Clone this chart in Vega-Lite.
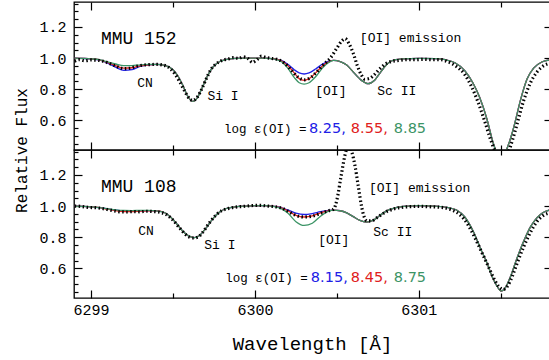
{
  "$schema": "https://vega.github.io/schema/vega-lite/v6.json",
  "padding": {"left": 12, "top": 0, "right": 0, "bottom": 0},
  "background": "white",
  "spacing": 0,
  "bounds": "flush",
  "config": {
    "view": {"stroke": "#000", "strokeWidth": 1.3},
    "axis": {"domain": false, "grid": false, "tickColor": "#000", "tickWidth": 1.2, "labelFont": "Liberation Mono", "labelFontSize": 15, "labelColor": "#000", "titleFont": "Liberation Mono", "titleColor": "#000", "titleFontWeight": "normal"},
    "text": {"font": "Liberation Mono", "color": "#000"}
  },
  "datasets": {
    "top": [
      {"series":"low","x":6298.90,"flux":1.000},{"series":"low","x":6298.95,"flux":0.998},{"series":"low","x":6299.00,"flux":0.995},{"series":"low","x":6299.05,"flux":0.988},{"series":"low","x":6299.10,"flux":0.968},{"series":"low","x":6299.15,"flux":0.942},{"series":"low","x":6299.20,"flux":0.921},{"series":"low","x":6299.25,"flux":0.926},{"series":"low","x":6299.30,"flux":0.946},{"series":"low","x":6299.35,"flux":0.956},{"series":"low","x":6299.40,"flux":0.959},{"series":"low","x":6299.45,"flux":0.953},{"series":"low","x":6299.50,"flux":0.925},{"series":"low","x":6299.53,"flux":0.885},{"series":"low","x":6299.56,"flux":0.825},{"series":"low","x":6299.59,"flux":0.755},{"series":"low","x":6299.62,"flux":0.722},{"series":"low","x":6299.65,"flux":0.748},{"series":"low","x":6299.68,"flux":0.815},{"series":"low","x":6299.71,"flux":0.885},{"series":"low","x":6299.74,"flux":0.938},{"series":"low","x":6299.78,"flux":0.975},{"series":"low","x":6299.82,"flux":0.99},{"series":"low","x":6299.88,"flux":0.998},{"series":"low","x":6299.95,"flux":1.0},{"series":"low","x":6300.05,"flux":1.0},{"series":"low","x":6300.12,"flux":0.995},{"series":"low","x":6300.16,"flux":0.985},{"series":"low","x":6300.20,"flux":0.96},{"series":"low","x":6300.24,"flux":0.925},{"series":"low","x":6300.27,"flux":0.905},{"series":"low","x":6300.30,"flux":0.898},{"series":"low","x":6300.33,"flux":0.905},{"series":"low","x":6300.37,"flux":0.93},{"series":"low","x":6300.41,"flux":0.96},{"series":"low","x":6300.45,"flux":0.98},{"series":"low","x":6300.48,"flux":0.985},{"series":"low","x":6300.52,"flux":0.978},{"series":"low","x":6300.56,"flux":0.955},{"series":"low","x":6300.60,"flux":0.91},{"series":"low","x":6300.65,"flux":0.857},{"series":"low","x":6300.69,"flux":0.836},{"series":"low","x":6300.73,"flux":0.858},{"series":"low","x":6300.77,"flux":0.915},{"series":"low","x":6300.81,"flux":0.965},{"series":"low","x":6300.85,"flux":0.988},{"series":"low","x":6300.90,"flux":0.995},{"series":"low","x":6301.00,"flux":0.998},{"series":"low","x":6301.10,"flux":0.997},{"series":"low","x":6301.16,"flux":0.99},{"series":"low","x":6301.22,"flux":0.97},{"series":"low","x":6301.28,"flux":0.92},{"series":"low","x":6301.33,"flux":0.84},{"series":"low","x":6301.37,"flux":0.75},{"series":"low","x":6301.415,"flux":0.61},{"series":"low","x":6301.455,"flux":0.45},{"series":"low","x":6301.50,"flux":0.35},{"series":"low","x":6301.545,"flux":0.44},{"series":"low","x":6301.58,"flux":0.56},{"series":"low","x":6301.62,"flux":0.73},{"series":"low","x":6301.66,"flux":0.865},{"series":"low","x":6301.70,"flux":0.935},{"series":"low","x":6301.75,"flux":0.975},{"series":"low","x":6301.81,"flux":0.99},

      {"series":"mid","x":6298.90,"flux":1.000},{"series":"mid","x":6298.95,"flux":0.998},{"series":"mid","x":6299.00,"flux":0.995},{"series":"mid","x":6299.05,"flux":0.989},{"series":"mid","x":6299.10,"flux":0.972},{"series":"mid","x":6299.15,"flux":0.952},{"series":"mid","x":6299.20,"flux":0.935},{"series":"mid","x":6299.25,"flux":0.938},{"series":"mid","x":6299.30,"flux":0.95},{"series":"mid","x":6299.35,"flux":0.957},{"series":"mid","x":6299.40,"flux":0.959},{"series":"mid","x":6299.45,"flux":0.953},{"series":"mid","x":6299.50,"flux":0.925},{"series":"mid","x":6299.53,"flux":0.885},{"series":"mid","x":6299.56,"flux":0.825},{"series":"mid","x":6299.59,"flux":0.755},{"series":"mid","x":6299.62,"flux":0.722},{"series":"mid","x":6299.65,"flux":0.748},{"series":"mid","x":6299.68,"flux":0.815},{"series":"mid","x":6299.71,"flux":0.885},{"series":"mid","x":6299.74,"flux":0.938},{"series":"mid","x":6299.78,"flux":0.975},{"series":"mid","x":6299.82,"flux":0.99},{"series":"mid","x":6299.88,"flux":0.998},{"series":"mid","x":6299.95,"flux":1.0},{"series":"mid","x":6300.05,"flux":1.0},{"series":"mid","x":6300.12,"flux":0.995},{"series":"mid","x":6300.16,"flux":0.983},{"series":"mid","x":6300.20,"flux":0.952},{"series":"mid","x":6300.24,"flux":0.905},{"series":"mid","x":6300.27,"flux":0.868},{"series":"mid","x":6300.30,"flux":0.857},{"series":"mid","x":6300.33,"flux":0.868},{"series":"mid","x":6300.37,"flux":0.905},{"series":"mid","x":6300.41,"flux":0.948},{"series":"mid","x":6300.45,"flux":0.976},{"series":"mid","x":6300.48,"flux":0.985},{"series":"mid","x":6300.52,"flux":0.978},{"series":"mid","x":6300.56,"flux":0.955},{"series":"mid","x":6300.60,"flux":0.91},{"series":"mid","x":6300.65,"flux":0.857},{"series":"mid","x":6300.69,"flux":0.836},{"series":"mid","x":6300.73,"flux":0.858},{"series":"mid","x":6300.77,"flux":0.915},{"series":"mid","x":6300.81,"flux":0.965},{"series":"mid","x":6300.85,"flux":0.988},{"series":"mid","x":6300.90,"flux":0.995},{"series":"mid","x":6301.00,"flux":0.998},{"series":"mid","x":6301.10,"flux":0.997},{"series":"mid","x":6301.16,"flux":0.99},{"series":"mid","x":6301.22,"flux":0.97},{"series":"mid","x":6301.28,"flux":0.92},{"series":"mid","x":6301.33,"flux":0.84},{"series":"mid","x":6301.37,"flux":0.75},{"series":"mid","x":6301.415,"flux":0.61},{"series":"mid","x":6301.455,"flux":0.45},{"series":"mid","x":6301.50,"flux":0.35},{"series":"mid","x":6301.545,"flux":0.44},{"series":"mid","x":6301.58,"flux":0.56},{"series":"mid","x":6301.62,"flux":0.73},{"series":"mid","x":6301.66,"flux":0.865},{"series":"mid","x":6301.70,"flux":0.935},{"series":"mid","x":6301.75,"flux":0.975},{"series":"mid","x":6301.81,"flux":0.99},

      {"series":"high","x":6298.90,"flux":1.000},{"series":"high","x":6298.95,"flux":0.998},{"series":"high","x":6299.00,"flux":0.995},{"series":"high","x":6299.05,"flux":0.99},{"series":"high","x":6299.10,"flux":0.976},{"series":"high","x":6299.15,"flux":0.962},{"series":"high","x":6299.20,"flux":0.951},{"series":"high","x":6299.25,"flux":0.952},{"series":"high","x":6299.30,"flux":0.957},{"series":"high","x":6299.35,"flux":0.959},{"series":"high","x":6299.40,"flux":0.959},{"series":"high","x":6299.45,"flux":0.953},{"series":"high","x":6299.50,"flux":0.925},{"series":"high","x":6299.53,"flux":0.885},{"series":"high","x":6299.56,"flux":0.825},{"series":"high","x":6299.59,"flux":0.755},{"series":"high","x":6299.62,"flux":0.722},{"series":"high","x":6299.65,"flux":0.748},{"series":"high","x":6299.68,"flux":0.815},{"series":"high","x":6299.71,"flux":0.885},{"series":"high","x":6299.74,"flux":0.938},{"series":"high","x":6299.78,"flux":0.975},{"series":"high","x":6299.82,"flux":0.99},{"series":"high","x":6299.88,"flux":0.998},{"series":"high","x":6299.95,"flux":1.0},{"series":"high","x":6300.05,"flux":1.0},{"series":"high","x":6300.12,"flux":0.994},{"series":"high","x":6300.16,"flux":0.978},{"series":"high","x":6300.20,"flux":0.935},{"series":"high","x":6300.24,"flux":0.875},{"series":"high","x":6300.27,"flux":0.842},{"series":"high","x":6300.30,"flux":0.833},{"series":"high","x":6300.33,"flux":0.842},{"series":"high","x":6300.37,"flux":0.88},{"series":"high","x":6300.41,"flux":0.935},{"series":"high","x":6300.45,"flux":0.972},{"series":"high","x":6300.48,"flux":0.985},{"series":"high","x":6300.52,"flux":0.978},{"series":"high","x":6300.56,"flux":0.955},{"series":"high","x":6300.60,"flux":0.91},{"series":"high","x":6300.65,"flux":0.857},{"series":"high","x":6300.69,"flux":0.836},{"series":"high","x":6300.73,"flux":0.858},{"series":"high","x":6300.77,"flux":0.915},{"series":"high","x":6300.81,"flux":0.965},{"series":"high","x":6300.85,"flux":0.988},{"series":"high","x":6300.90,"flux":0.995},{"series":"high","x":6301.00,"flux":0.998},{"series":"high","x":6301.10,"flux":0.997},{"series":"high","x":6301.16,"flux":0.99},{"series":"high","x":6301.22,"flux":0.97},{"series":"high","x":6301.28,"flux":0.92},{"series":"high","x":6301.33,"flux":0.84},{"series":"high","x":6301.37,"flux":0.75},{"series":"high","x":6301.415,"flux":0.61},{"series":"high","x":6301.455,"flux":0.45},{"series":"high","x":6301.50,"flux":0.35},{"series":"high","x":6301.545,"flux":0.44},{"series":"high","x":6301.58,"flux":0.56},{"series":"high","x":6301.62,"flux":0.73},{"series":"high","x":6301.66,"flux":0.865},{"series":"high","x":6301.70,"flux":0.935},{"series":"high","x":6301.75,"flux":0.975},{"series":"high","x":6301.81,"flux":0.99},

      {"series":"obs","x":6298.90,"flux":0.98},{"series":"obs","x":6298.93,"flux":0.99},{"series":"obs","x":6298.96,"flux":0.983},{"series":"obs","x":6299.00,"flux":0.988},{"series":"obs","x":6299.04,"flux":0.986},{"series":"obs","x":6299.08,"flux":0.978},{"series":"obs","x":6299.12,"flux":0.962},{"series":"obs","x":6299.16,"flux":0.945},{"series":"obs","x":6299.20,"flux":0.932},{"series":"obs","x":6299.24,"flux":0.935},{"series":"obs","x":6299.28,"flux":0.948},{"series":"obs","x":6299.32,"flux":0.955},{"series":"obs","x":6299.36,"flux":0.958},{"series":"obs","x":6299.40,"flux":0.96},{"series":"obs","x":6299.44,"flux":0.955},{"series":"obs","x":6299.48,"flux":0.935},{"series":"obs","x":6299.51,"flux":0.9},{"series":"obs","x":6299.54,"flux":0.85},{"series":"obs","x":6299.57,"flux":0.79},{"series":"obs","x":6299.60,"flux":0.74},{"series":"obs","x":6299.62,"flux":0.728},{"series":"obs","x":6299.645,"flux":0.745},{"series":"obs","x":6299.67,"flux":0.79},{"series":"obs","x":6299.70,"flux":0.86},{"series":"obs","x":6299.73,"flux":0.925},{"series":"obs","x":6299.76,"flux":0.96},{"series":"obs","x":6299.80,"flux":0.985},{"series":"obs","x":6299.84,"flux":0.995},{"series":"obs","x":6299.87,"flux":1.003},{"series":"obs","x":6299.90,"flux":0.998},{"series":"obs","x":6299.93,"flux":1.008},{"series":"obs","x":6299.96,"flux":0.995},{"series":"obs","x":6299.985,"flux":0.972},{"series":"obs","x":6300.01,"flux":0.988},{"series":"obs","x":6300.04,"flux":1.012},{"series":"obs","x":6300.07,"flux":1.003},{"series":"obs","x":6300.10,"flux":0.998},{"series":"obs","x":6300.14,"flux":0.99},{"series":"obs","x":6300.18,"flux":0.968},{"series":"obs","x":6300.22,"flux":0.925},{"series":"obs","x":6300.26,"flux":0.88},{"series":"obs","x":6300.30,"flux":0.86},{"series":"obs","x":6300.34,"flux":0.875},{"series":"obs","x":6300.38,"flux":0.915},{"series":"obs","x":6300.42,"flux":0.96},{"series":"obs","x":6300.46,"flux":1.0},{"series":"obs","x":6300.50,"flux":1.065},{"series":"obs","x":6300.53,"flux":1.11},{"series":"obs","x":6300.55,"flux":1.125},{"series":"obs","x":6300.575,"flux":1.09},{"series":"obs","x":6300.60,"flux":1.03},{"series":"obs","x":6300.625,"flux":0.95},{"series":"obs","x":6300.65,"flux":0.89},{"series":"obs","x":6300.67,"flux":0.865},{"series":"obs","x":6300.70,"flux":0.87},{"series":"obs","x":6300.73,"flux":0.895},{"series":"obs","x":6300.76,"flux":0.93},{"series":"obs","x":6300.80,"flux":0.965},{"series":"obs","x":6300.84,"flux":0.98},{"series":"obs","x":6300.88,"flux":0.985},{"series":"obs","x":6300.93,"flux":0.99},{"series":"obs","x":6300.98,"flux":0.99},{"series":"obs","x":6301.03,"flux":0.992},{"series":"obs","x":6301.08,"flux":0.99},{"series":"obs","x":6301.13,"flux":0.99},{"series":"obs","x":6301.18,"flux":0.975},{"series":"obs","x":6301.23,"flux":0.945},{"series":"obs","x":6301.28,"flux":0.895},{"series":"obs","x":6301.32,"flux":0.82},{"series":"obs","x":6301.36,"flux":0.72},{"series":"obs","x":6301.40,"flux":0.6},{"series":"obs","x":6301.44,"flux":0.47},{"series":"obs","x":6301.47,"flux":0.39},{"series":"obs","x":6301.50,"flux":0.34},{"series":"obs","x":6301.54,"flux":0.38},{"series":"obs","x":6301.57,"flux":0.47},{"series":"obs","x":6301.60,"flux":0.58},{"series":"obs","x":6301.64,"flux":0.73},{"series":"obs","x":6301.68,"flux":0.84},{"series":"obs","x":6301.72,"flux":0.91},{"series":"obs","x":6301.76,"flux":0.95},{"series":"obs","x":6301.81,"flux":0.97}
    ],
    "bottom": [
      {"series":"low","x":6298.90,"flux":1.0},{"series":"low","x":6298.95,"flux":0.998},{"series":"low","x":6299.00,"flux":0.995},{"series":"low","x":6299.05,"flux":0.99},{"series":"low","x":6299.10,"flux":0.982},{"series":"low","x":6299.15,"flux":0.974},{"series":"low","x":6299.20,"flux":0.969},{"series":"low","x":6299.25,"flux":0.968},{"series":"low","x":6299.30,"flux":0.97},{"series":"low","x":6299.35,"flux":0.971},{"series":"low","x":6299.40,"flux":0.969},{"series":"low","x":6299.44,"flux":0.962},{"series":"low","x":6299.48,"flux":0.935},{"series":"low","x":6299.52,"flux":0.89},{"series":"low","x":6299.56,"flux":0.838},{"series":"low","x":6299.60,"flux":0.805},{"series":"low","x":6299.63,"flux":0.798},{"series":"low","x":6299.66,"flux":0.81},{"series":"low","x":6299.70,"flux":0.857},{"series":"low","x":6299.74,"flux":0.915},{"series":"low","x":6299.78,"flux":0.958},{"series":"low","x":6299.82,"flux":0.983},{"series":"low","x":6299.88,"flux":0.995},{"series":"low","x":6299.95,"flux":1.0},{"series":"low","x":6300.05,"flux":1.003},{"series":"low","x":6300.12,"flux":0.998},{"series":"low","x":6300.16,"flux":0.99},{"series":"low","x":6300.20,"flux":0.975},{"series":"low","x":6300.25,"flux":0.955},{"series":"low","x":6300.30,"flux":0.946},{"series":"low","x":6300.35,"flux":0.952},{"series":"low","x":6300.40,"flux":0.964},{"series":"low","x":6300.45,"flux":0.972},{"series":"low","x":6300.48,"flux":0.974},{"series":"low","x":6300.52,"flux":0.97},{"series":"low","x":6300.56,"flux":0.956},{"series":"low","x":6300.60,"flux":0.932},{"series":"low","x":6300.64,"flux":0.908},{"series":"low","x":6300.68,"flux":0.897},{"series":"low","x":6300.72,"flux":0.908},{"series":"low","x":6300.76,"flux":0.938},{"series":"low","x":6300.80,"flux":0.968},{"series":"low","x":6300.86,"flux":0.99},{"series":"low","x":6300.93,"flux":1.0},{"series":"low","x":6301.00,"flux":1.003},{"series":"low","x":6301.10,"flux":1.0},{"series":"low","x":6301.18,"flux":0.99},{"series":"low","x":6301.23,"flux":0.975},{"series":"low","x":6301.28,"flux":0.93},{"series":"low","x":6301.335,"flux":0.83},{"series":"low","x":6301.375,"flux":0.73},{"series":"low","x":6301.415,"flux":0.636},{"series":"low","x":6301.45,"flux":0.54},{"series":"low","x":6301.475,"flux":0.49},{"series":"low","x":6301.50,"flux":0.455},{"series":"low","x":6301.53,"flux":0.48},{"series":"low","x":6301.56,"flux":0.55},{"series":"low","x":6301.59,"flux":0.64},{"series":"low","x":6301.62,"flux":0.725},{"series":"low","x":6301.65,"flux":0.8},{"series":"low","x":6301.68,"flux":0.865},{"series":"low","x":6301.71,"flux":0.912},{"series":"low","x":6301.74,"flux":0.945},{"series":"low","x":6301.77,"flux":0.965},{"series":"low","x":6301.81,"flux":0.977},

      {"series":"mid","x":6298.90,"flux":1.0},{"series":"mid","x":6298.95,"flux":0.998},{"series":"mid","x":6299.00,"flux":0.995},{"series":"mid","x":6299.05,"flux":0.99},{"series":"mid","x":6299.10,"flux":0.98},{"series":"mid","x":6299.15,"flux":0.971},{"series":"mid","x":6299.20,"flux":0.965},{"series":"mid","x":6299.25,"flux":0.964},{"series":"mid","x":6299.30,"flux":0.967},{"series":"mid","x":6299.35,"flux":0.97},{"series":"mid","x":6299.40,"flux":0.969},{"series":"mid","x":6299.44,"flux":0.962},{"series":"mid","x":6299.48,"flux":0.935},{"series":"mid","x":6299.52,"flux":0.89},{"series":"mid","x":6299.56,"flux":0.838},{"series":"mid","x":6299.60,"flux":0.805},{"series":"mid","x":6299.63,"flux":0.798},{"series":"mid","x":6299.66,"flux":0.81},{"series":"mid","x":6299.70,"flux":0.857},{"series":"mid","x":6299.74,"flux":0.915},{"series":"mid","x":6299.78,"flux":0.958},{"series":"mid","x":6299.82,"flux":0.983},{"series":"mid","x":6299.88,"flux":0.995},{"series":"mid","x":6299.95,"flux":1.0},{"series":"mid","x":6300.05,"flux":1.003},{"series":"mid","x":6300.12,"flux":0.998},{"series":"mid","x":6300.16,"flux":0.989},{"series":"mid","x":6300.20,"flux":0.97},{"series":"mid","x":6300.25,"flux":0.94},{"series":"mid","x":6300.30,"flux":0.93},{"series":"mid","x":6300.35,"flux":0.937},{"series":"mid","x":6300.40,"flux":0.956},{"series":"mid","x":6300.45,"flux":0.971},{"series":"mid","x":6300.48,"flux":0.974},{"series":"mid","x":6300.52,"flux":0.97},{"series":"mid","x":6300.56,"flux":0.956},{"series":"mid","x":6300.60,"flux":0.932},{"series":"mid","x":6300.64,"flux":0.908},{"series":"mid","x":6300.68,"flux":0.897},{"series":"mid","x":6300.72,"flux":0.908},{"series":"mid","x":6300.76,"flux":0.938},{"series":"mid","x":6300.80,"flux":0.968},{"series":"mid","x":6300.86,"flux":0.99},{"series":"mid","x":6300.93,"flux":1.0},{"series":"mid","x":6301.00,"flux":1.003},{"series":"mid","x":6301.10,"flux":1.0},{"series":"mid","x":6301.18,"flux":0.99},{"series":"mid","x":6301.23,"flux":0.975},{"series":"mid","x":6301.28,"flux":0.93},{"series":"mid","x":6301.335,"flux":0.83},{"series":"mid","x":6301.375,"flux":0.73},{"series":"mid","x":6301.415,"flux":0.636},{"series":"mid","x":6301.45,"flux":0.54},{"series":"mid","x":6301.475,"flux":0.49},{"series":"mid","x":6301.50,"flux":0.455},{"series":"mid","x":6301.53,"flux":0.48},{"series":"mid","x":6301.56,"flux":0.55},{"series":"mid","x":6301.59,"flux":0.64},{"series":"mid","x":6301.62,"flux":0.725},{"series":"mid","x":6301.65,"flux":0.8},{"series":"mid","x":6301.68,"flux":0.865},{"series":"mid","x":6301.71,"flux":0.912},{"series":"mid","x":6301.74,"flux":0.945},{"series":"mid","x":6301.77,"flux":0.965},{"series":"mid","x":6301.81,"flux":0.977},

      {"series":"high","x":6298.90,"flux":1.0},{"series":"high","x":6298.95,"flux":0.998},{"series":"high","x":6299.00,"flux":0.995},{"series":"high","x":6299.05,"flux":0.99},{"series":"high","x":6299.10,"flux":0.983},{"series":"high","x":6299.15,"flux":0.976},{"series":"high","x":6299.20,"flux":0.972},{"series":"high","x":6299.25,"flux":0.971},{"series":"high","x":6299.30,"flux":0.972},{"series":"high","x":6299.35,"flux":0.972},{"series":"high","x":6299.40,"flux":0.969},{"series":"high","x":6299.44,"flux":0.962},{"series":"high","x":6299.48,"flux":0.935},{"series":"high","x":6299.52,"flux":0.89},{"series":"high","x":6299.56,"flux":0.838},{"series":"high","x":6299.60,"flux":0.805},{"series":"high","x":6299.63,"flux":0.798},{"series":"high","x":6299.66,"flux":0.81},{"series":"high","x":6299.70,"flux":0.857},{"series":"high","x":6299.74,"flux":0.915},{"series":"high","x":6299.78,"flux":0.958},{"series":"high","x":6299.82,"flux":0.983},{"series":"high","x":6299.88,"flux":0.995},{"series":"high","x":6299.95,"flux":1.0},{"series":"high","x":6300.05,"flux":1.003},{"series":"high","x":6300.12,"flux":0.996},{"series":"high","x":6300.16,"flux":0.984},{"series":"high","x":6300.20,"flux":0.955},{"series":"high","x":6300.25,"flux":0.9},{"series":"high","x":6300.30,"flux":0.876},{"series":"high","x":6300.35,"flux":0.89},{"series":"high","x":6300.40,"flux":0.935},{"series":"high","x":6300.45,"flux":0.967},{"series":"high","x":6300.48,"flux":0.974},{"series":"high","x":6300.52,"flux":0.97},{"series":"high","x":6300.56,"flux":0.956},{"series":"high","x":6300.60,"flux":0.932},{"series":"high","x":6300.64,"flux":0.908},{"series":"high","x":6300.68,"flux":0.897},{"series":"high","x":6300.72,"flux":0.908},{"series":"high","x":6300.76,"flux":0.938},{"series":"high","x":6300.80,"flux":0.968},{"series":"high","x":6300.86,"flux":0.99},{"series":"high","x":6300.93,"flux":1.0},{"series":"high","x":6301.00,"flux":1.003},{"series":"high","x":6301.10,"flux":1.0},{"series":"high","x":6301.18,"flux":0.99},{"series":"high","x":6301.23,"flux":0.975},{"series":"high","x":6301.28,"flux":0.93},{"series":"high","x":6301.335,"flux":0.83},{"series":"high","x":6301.375,"flux":0.73},{"series":"high","x":6301.415,"flux":0.636},{"series":"high","x":6301.45,"flux":0.54},{"series":"high","x":6301.475,"flux":0.49},{"series":"high","x":6301.50,"flux":0.455},{"series":"high","x":6301.53,"flux":0.48},{"series":"high","x":6301.56,"flux":0.55},{"series":"high","x":6301.59,"flux":0.64},{"series":"high","x":6301.62,"flux":0.725},{"series":"high","x":6301.65,"flux":0.8},{"series":"high","x":6301.68,"flux":0.865},{"series":"high","x":6301.71,"flux":0.912},{"series":"high","x":6301.74,"flux":0.945},{"series":"high","x":6301.77,"flux":0.965},{"series":"high","x":6301.81,"flux":0.977},

      {"series":"obs","x":6298.90,"flux":1.0},{"series":"obs","x":6298.94,"flux":0.998},{"series":"obs","x":6298.98,"flux":0.992},{"series":"obs","x":6299.02,"flux":0.99},{"series":"obs","x":6299.06,"flux":0.986},{"series":"obs","x":6299.10,"flux":0.978},{"series":"obs","x":6299.14,"flux":0.97},{"series":"obs","x":6299.18,"flux":0.963},{"series":"obs","x":6299.22,"flux":0.962},{"series":"obs","x":6299.26,"flux":0.965},{"series":"obs","x":6299.30,"flux":0.963},{"series":"obs","x":6299.34,"flux":0.967},{"series":"obs","x":6299.38,"flux":0.965},{"series":"obs","x":6299.42,"flux":0.96},{"series":"obs","x":6299.46,"flux":0.945},{"series":"obs","x":6299.50,"flux":0.91},{"series":"obs","x":6299.54,"flux":0.86},{"series":"obs","x":6299.58,"flux":0.815},{"series":"obs","x":6299.62,"flux":0.795},{"series":"obs","x":6299.65,"flux":0.8},{"series":"obs","x":6299.68,"flux":0.83},{"series":"obs","x":6299.72,"flux":0.89},{"series":"obs","x":6299.76,"flux":0.94},{"series":"obs","x":6299.80,"flux":0.972},{"series":"obs","x":6299.84,"flux":0.985},{"series":"obs","x":6299.88,"flux":0.993},{"series":"obs","x":6299.93,"flux":0.998},{"series":"obs","x":6299.98,"flux":1.003},{"series":"obs","x":6300.03,"flux":1.005},{"series":"obs","x":6300.08,"flux":1.0},{"series":"obs","x":6300.12,"flux":0.996},{"series":"obs","x":6300.16,"flux":0.988},{"series":"obs","x":6300.20,"flux":0.968},{"series":"obs","x":6300.25,"flux":0.94},{"series":"obs","x":6300.30,"flux":0.93},{"series":"obs","x":6300.35,"flux":0.935},{"series":"obs","x":6300.40,"flux":0.953},{"series":"obs","x":6300.45,"flux":0.97},{"series":"obs","x":6300.48,"flux":0.98},{"series":"obs","x":6300.50,"flux":1.04},{"series":"obs","x":6300.525,"flux":1.19},{"series":"obs","x":6300.55,"flux":1.33},{"series":"obs","x":6300.57,"flux":1.39},{"series":"obs","x":6300.59,"flux":1.35},{"series":"obs","x":6300.61,"flux":1.26},{"series":"obs","x":6300.63,"flux":1.13},{"series":"obs","x":6300.65,"flux":1.0},{"series":"obs","x":6300.665,"flux":0.935},{"series":"obs","x":6300.685,"flux":0.905},{"series":"obs","x":6300.71,"flux":0.905},{"series":"obs","x":6300.75,"flux":0.93},{"series":"obs","x":6300.80,"flux":0.963},{"series":"obs","x":6300.86,"flux":0.985},{"series":"obs","x":6300.93,"flux":0.995},{"series":"obs","x":6301.00,"flux":0.998},{"series":"obs","x":6301.08,"flux":0.995},{"series":"obs","x":6301.15,"flux":0.99},{"series":"obs","x":6301.20,"flux":0.975},{"series":"obs","x":6301.25,"flux":0.945},{"series":"obs","x":6301.30,"flux":0.88},{"series":"obs","x":6301.345,"flux":0.79},{"series":"obs","x":6301.385,"flux":0.7},{"series":"obs","x":6301.425,"flux":0.61},{"series":"obs","x":6301.46,"flux":0.53},{"series":"obs","x":6301.49,"flux":0.48},{"series":"obs","x":6301.515,"flux":0.465},{"series":"obs","x":6301.54,"flux":0.485},{"series":"obs","x":6301.57,"flux":0.55},{"series":"obs","x":6301.60,"flux":0.635},{"series":"obs","x":6301.64,"flux":0.74},{"series":"obs","x":6301.68,"flux":0.83},{"series":"obs","x":6301.72,"flux":0.9},{"series":"obs","x":6301.76,"flux":0.94},{"series":"obs","x":6301.81,"flux":0.96}
    ],
    "notesTop": [
      {"kind":"name","x":6299.06,"y":1.089,"label":"MMU 152"},
      {"kind":"line","x":6299.329,"y":0.815,"label":"CN"},
      {"kind":"line","x":6299.805,"y":0.732,"label":"Si I"},
      {"kind":"line","x":6300.463,"y":0.764,"label":"[OI]"},
      {"kind":"line","x":6300.865,"y":0.764,"label":"Sc II"},
      {"kind":"left","x":6300.64,"y":1.102,"label":"[OI] emission"},
      {"kind":"log","x":6300.314,"y":0.521,"label":"log ε(OI) ="},
      {"kind":"low","x":6300.329,"y":0.521,"label":"8.25,"},
      {"kind":"mid","x":6300.585,"y":0.521,"label":"8.55,"},
      {"kind":"high","x":6300.847,"y":0.521,"label":"8.85"}
    ],
    "notesBottom": [
      {"kind":"name","x":6299.06,"y":1.092,"label":"MMU 108"},
      {"kind":"line","x":6299.335,"y":0.816,"label":"CN"},
      {"kind":"line","x":6299.786,"y":0.723,"label":"Si I"},
      {"kind":"line","x":6300.481,"y":0.758,"label":"[OI]"},
      {"kind":"line","x":6300.841,"y":0.81,"label":"Sc II"},
      {"kind":"left","x":6300.695,"y":1.092,"label":"[OI] emission"},
      {"kind":"log","x":6300.322,"y":0.515,"label":"log ε(OI) ="},
      {"kind":"low","x":6300.341,"y":0.515,"label":"8.15,"},
      {"kind":"mid","x":6300.585,"y":0.515,"label":"8.45,"},
      {"kind":"high","x":6300.847,"y":0.515,"label":"8.75"}
    ]
  },
  "vconcat": [
    {
      "width": 476, "height": 148,
      "data": {"name": "top"},
      "resolve": {"axis": {"x": "independent", "y": "independent"}},
      "layer": [
        {"transform": [{"filter": "datum.series === 'low'"}],
         "mark": {"type": "line", "color": "#2020e6", "strokeWidth": 1.3, "interpolate": "monotone", "clip": true},
         "encoding": {
           "x": {"field": "x", "type": "quantitative", "scale": {"domain": [6298.896, 6301.8], "nice": false, "zero": false}, "axis": {"orient": "bottom", "values": [6299, 6300, 6301], "tickSize": -8, "labels": false, "title": null}},
           "y": {"field": "flux", "type": "quantitative", "scale": {"domain": [0.41, 1.36], "nice": false, "zero": false}, "axis": {"orient": "left", "values": [0.6, 0.8, 1.0, 1.2], "format": ".1f", "tickSize": -8, "labelPadding": 16, "title": "Relative Flux", "titleFontSize": 16, "titleX": -45, "titleY": 148, "titleAngle": 270, "titleBaseline": "bottom"}}
         }},
        {"transform": [{"filter": "datum.series === 'mid'"}],
         "mark": {"type": "line", "color": "#e02020", "strokeWidth": 1.3, "interpolate": "monotone", "clip": true},
         "encoding": {
           "x": {"field": "x", "type": "quantitative", "axis": {"orient": "top", "values": [6299, 6300, 6301], "tickSize": -8, "labels": false, "title": null}},
           "y": {"field": "flux", "type": "quantitative", "axis": {"orient": "right", "values": [0.6, 0.8, 1.0, 1.2], "tickSize": -6, "labels": false, "title": null}}
         }},
        {"transform": [{"filter": "datum.series === 'high'"}],
         "mark": {"type": "line", "color": "#3c9466", "strokeWidth": 1.3, "interpolate": "monotone", "clip": true},
         "encoding": {
           "x": {"field": "x", "type": "quantitative", "axis": {"orient": "bottom", "values": [6299.5, 6300.5, 6301.5], "tickSize": -5, "labels": false, "title": null}},
           "y": {"field": "flux", "type": "quantitative", "axis": {"orient": "left", "values": [0.45, 0.5, 0.55, 0.65, 0.7, 0.75, 0.85, 0.9, 0.95, 1.05, 1.1, 1.15, 1.25, 1.3, 1.35], "tickSize": -4, "labels": false, "title": null}}
         }},
        {"transform": [{"filter": "datum.series === 'obs'"}],
         "mark": {"type": "line", "color": "#000", "strokeWidth": 3.2, "strokeDash": [1.5, 2.5], "interpolate": "monotone", "clip": true},
         "encoding": {
           "x": {"field": "x", "type": "quantitative", "axis": {"orient": "top", "values": [6299.5, 6300.5, 6301.5], "tickSize": -5, "labels": false, "title": null}},
           "y": {"field": "flux", "type": "quantitative", "axis": null}
         }},
        {"data": {"name": "notesTop"}, "transform": [{"filter": "datum.kind === 'name'"}],
         "mark": {"type": "text", "align": "left", "baseline": "alphabetic", "fontSize": 18},
         "encoding": {"x": {"field": "x", "type": "quantitative", "axis": null}, "y": {"field": "y", "type": "quantitative", "axis": null}, "text": {"field": "label"}}},
        {"data": {"name": "notesTop"}, "transform": [{"filter": "datum.kind === 'line'"}],
         "mark": {"type": "text", "align": "center", "baseline": "alphabetic", "fontSize": 13},
         "encoding": {"x": {"field": "x", "type": "quantitative", "axis": null}, "y": {"field": "y", "type": "quantitative", "axis": null}, "text": {"field": "label"}}},
        {"data": {"name": "notesTop"}, "transform": [{"filter": "datum.kind === 'left'"}],
         "mark": {"type": "text", "align": "left", "baseline": "alphabetic", "fontSize": 13},
         "encoding": {"x": {"field": "x", "type": "quantitative", "axis": null}, "y": {"field": "y", "type": "quantitative", "axis": null}, "text": {"field": "label"}}},
        {"data": {"name": "notesTop"}, "transform": [{"filter": "datum.kind === 'log'"}],
         "mark": {"type": "text", "align": "right", "baseline": "alphabetic", "fontSize": 12.5},
         "encoding": {"x": {"field": "x", "type": "quantitative", "axis": null}, "y": {"field": "y", "type": "quantitative", "axis": null}, "text": {"field": "label"}}},
        {"data": {"name": "notesTop"}, "transform": [{"filter": "datum.kind === 'low' || datum.kind === 'mid' || datum.kind === 'high'"}],
         "mark": {"type": "text", "align": "left", "baseline": "alphabetic", "fontSize": 14.5, "font": "DejaVu Sans"},
         "encoding": {"x": {"field": "x", "type": "quantitative", "axis": null}, "y": {"field": "y", "type": "quantitative", "axis": null}, "text": {"field": "label"},
           "color": {"field": "kind", "type": "nominal", "scale": {"domain": ["low", "mid", "high"], "range": ["#2020e6", "#e02020", "#3c9466"]}, "legend": null}}}
      ]
    },
    {
      "width": 476, "height": 148,
      "data": {"name": "bottom"},
      "resolve": {"axis": {"x": "independent", "y": "independent"}},
      "layer": [
        {"transform": [{"filter": "datum.series === 'low'"}],
         "mark": {"type": "line", "color": "#2020e6", "strokeWidth": 1.3, "interpolate": "monotone", "clip": true},
         "encoding": {
           "x": {"field": "x", "type": "quantitative", "scale": {"domain": [6298.896, 6301.8], "nice": false, "zero": false}, "axis": {"orient": "bottom", "values": [6299, 6300, 6301], "format": "d", "tickSize": -8, "labelPadding": 12, "title": "Wavelength [Å]", "titleFontSize": 19, "titleY": 51, "titleBaseline": "alphabetic"}},
           "y": {"field": "flux", "type": "quantitative", "scale": {"domain": [0.41, 1.36], "nice": false, "zero": false}, "axis": {"orient": "left", "values": [0.6, 0.8, 1.0, 1.2], "format": ".1f", "tickSize": -8, "labelPadding": 16, "title": null}}
         }},
        {"transform": [{"filter": "datum.series === 'mid'"}],
         "mark": {"type": "line", "color": "#e02020", "strokeWidth": 1.3, "interpolate": "monotone", "clip": true},
         "encoding": {
           "x": {"field": "x", "type": "quantitative", "axis": {"orient": "top", "values": [6299, 6300, 6301], "tickSize": -8, "labels": false, "title": null}},
           "y": {"field": "flux", "type": "quantitative", "axis": {"orient": "right", "values": [0.6, 0.8, 1.0, 1.2], "tickSize": -6, "labels": false, "title": null}}
         }},
        {"transform": [{"filter": "datum.series === 'high'"}],
         "mark": {"type": "line", "color": "#3c9466", "strokeWidth": 1.3, "interpolate": "monotone", "clip": true},
         "encoding": {
           "x": {"field": "x", "type": "quantitative", "axis": {"orient": "bottom", "values": [6299.5, 6300.5, 6301.5], "tickSize": -5, "labels": false, "title": null}},
           "y": {"field": "flux", "type": "quantitative", "axis": {"orient": "left", "values": [0.45, 0.5, 0.55, 0.65, 0.7, 0.75, 0.85, 0.9, 0.95, 1.05, 1.1, 1.15, 1.25, 1.3, 1.35], "tickSize": -4, "labels": false, "title": null}}
         }},
        {"transform": [{"filter": "datum.series === 'obs'"}],
         "mark": {"type": "line", "color": "#000", "strokeWidth": 3.2, "strokeDash": [1.5, 2.5], "interpolate": "monotone", "clip": true},
         "encoding": {
           "x": {"field": "x", "type": "quantitative", "axis": {"orient": "top", "values": [6299.5, 6300.5, 6301.5], "tickSize": -5, "labels": false, "title": null}},
           "y": {"field": "flux", "type": "quantitative", "axis": null}
         }},
        {"data": {"name": "notesBottom"}, "transform": [{"filter": "datum.kind === 'name'"}],
         "mark": {"type": "text", "align": "left", "baseline": "alphabetic", "fontSize": 18},
         "encoding": {"x": {"field": "x", "type": "quantitative", "axis": null}, "y": {"field": "y", "type": "quantitative", "axis": null}, "text": {"field": "label"}}},
        {"data": {"name": "notesBottom"}, "transform": [{"filter": "datum.kind === 'line'"}],
         "mark": {"type": "text", "align": "center", "baseline": "alphabetic", "fontSize": 13},
         "encoding": {"x": {"field": "x", "type": "quantitative", "axis": null}, "y": {"field": "y", "type": "quantitative", "axis": null}, "text": {"field": "label"}}},
        {"data": {"name": "notesBottom"}, "transform": [{"filter": "datum.kind === 'left'"}],
         "mark": {"type": "text", "align": "left", "baseline": "alphabetic", "fontSize": 13},
         "encoding": {"x": {"field": "x", "type": "quantitative", "axis": null}, "y": {"field": "y", "type": "quantitative", "axis": null}, "text": {"field": "label"}}},
        {"data": {"name": "notesBottom"}, "transform": [{"filter": "datum.kind === 'log'"}],
         "mark": {"type": "text", "align": "right", "baseline": "alphabetic", "fontSize": 12.5},
         "encoding": {"x": {"field": "x", "type": "quantitative", "axis": null}, "y": {"field": "y", "type": "quantitative", "axis": null}, "text": {"field": "label"}}},
        {"data": {"name": "notesBottom"}, "transform": [{"filter": "datum.kind === 'low' || datum.kind === 'mid' || datum.kind === 'high'"}],
         "mark": {"type": "text", "align": "left", "baseline": "alphabetic", "fontSize": 14.5, "font": "DejaVu Sans"},
         "encoding": {"x": {"field": "x", "type": "quantitative", "axis": null}, "y": {"field": "y", "type": "quantitative", "axis": null}, "text": {"field": "label"},
           "color": {"field": "kind", "type": "nominal", "scale": {"domain": ["low", "mid", "high"], "range": ["#2020e6", "#e02020", "#3c9466"]}, "legend": null}}}
      ]
    }
  ]
}
